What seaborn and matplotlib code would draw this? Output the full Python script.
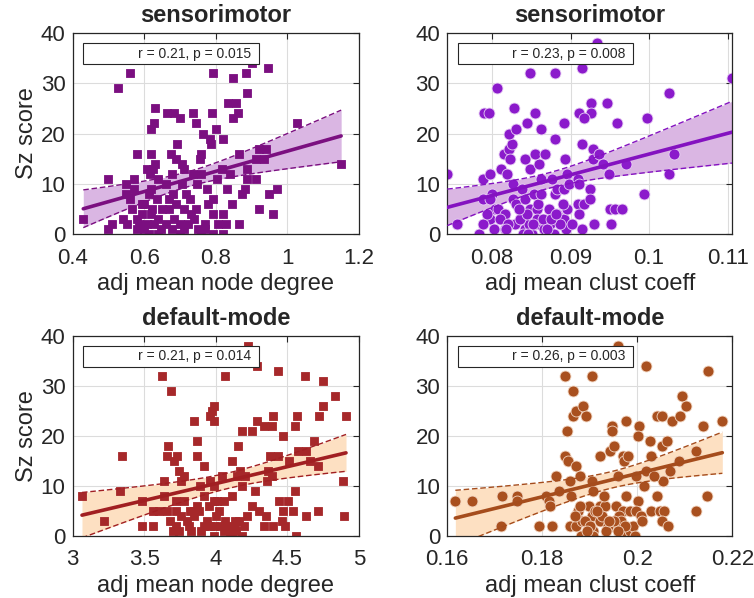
import matplotlib
matplotlib.use("Agg")
import matplotlib.pyplot as plt
import seaborn as sns
import numpy as np
from matplotlib.patches import Rectangle

# sensorimotor, node degree (squares)
tl_x = [0.561, 0.528, 0.792, 0.902, 0.946, 0.885, 0.849, 0.887, 0.834, 0.857, 0.862, 0.848,
        0.630, 0.663, 0.684, 0.700, 0.737, 0.790, 0.744, 0.628, 0.619, 0.801, 0.764, 0.783,
        0.820, 0.787, 1.028, 0.691, 0.581, 0.619, 0.675, 0.689, 0.759, 0.755, 0.865, 0.922,
        0.941, 0.912, 0.934, 0.630, 0.607, 0.625, 0.616, 0.679, 0.707, 0.712, 0.736, 0.759,
        0.817, 0.840, 0.888, 0.888, 0.913, 1.150, 0.500, 0.549, 0.572, 0.572, 0.549, 0.639,
        0.706, 0.748, 0.776, 0.804, 0.832, 0.881, 0.874, 0.971, 0.948, 0.614, 0.637, 0.670,
        0.716, 0.729, 0.792, 0.595, 0.567, 0.621, 0.670, 0.712, 0.744, 0.778, 0.846, 0.922,
        0.961, 0.595, 0.619, 0.684, 0.792, 0.820, 0.511, 0.553, 0.586, 0.609, 0.628, 0.679,
        0.721, 0.806, 0.829, 0.866, 0.498, 0.614, 0.647, 0.712, 0.759, 0.769, 0.792, 0.820,
        0.430, 0.580, 0.640, 0.660, 0.700, 0.740, 0.600, 0.650, 0.690, 0.730, 0.770, 0.620,
        0.660, 0.560, 0.680, 0.540, 0.600, 0.750, 0.700, 0.640, 0.580]
tl_y = [32, 29, 32, 34, 33, 32, 31, 28, 26, 26, 24, 23,
        25, 24, 24, 23, 24, 24, 22, 22, 21, 21, 20, 19,
        19, 18, 22, 18, 16, 16, 16, 15, 16, 15, 16, 17,
        17, 15, 15, 14, 13, 13, 12, 12, 14, 13, 12, 12,
        13, 12, 13, 11, 11, 14, 11, 10, 11, 9, 8, 11,
        10, 10, 9, 11, 9, 9, 8, 9, 8, 8, 7, 7,
        8, 7, 7, 6, 5, 5, 5, 5, 5, 6, 6, 5,
        4, 4, 4, 3, 4, 4, 2, 2, 2, 2, 2, 1,
        2, 2, 2, 2, 1, 0, 1, 1, 0, 1, 0, 0,
        3, 3, 3, 2, 2, 3, 6, 5, 6, 4, 2, 9,
        10, 7, 8, 3, 1, 1, 0, 0, 1]

# sensorimotor, clustering coefficient (circles)
tr_x = [0.0743, 0.0755, 0.0783, 0.0790, 0.0796, 0.0806, 0.0789, 0.0798, 0.0789, 0.0800,
        0.0798, 0.0804, 0.0807, 0.0798, 0.0789, 0.0812, 0.0819, 0.0815, 0.0822, 0.0823,
        0.0826, 0.0821, 0.0830, 0.0828, 0.0816, 0.0816, 0.0827, 0.0827, 0.0830, 0.0829,
        0.0842, 0.0840, 0.0851, 0.0844, 0.0855, 0.0862, 0.0848, 0.0842, 0.0849, 0.0860,
        0.0855, 0.0868, 0.0838, 0.0842, 0.0849, 0.0857, 0.0853, 0.0847, 0.0855, 0.0860,
        0.0866, 0.0874, 0.0857, 0.0880, 0.0880, 0.0892, 0.0893, 0.0863, 0.0877, 0.0872,
        0.0880, 0.0883, 0.0892, 0.0896, 0.0898, 0.0879, 0.0883, 0.0892, 0.0896, 0.0894,
        0.0902, 0.0915, 0.0911, 0.0926, 0.0926, 0.0917, 0.0915, 0.0928, 0.0929, 0.0936,
        0.0909, 0.0911, 0.0909, 0.0911, 0.0917, 0.0925, 0.0925, 0.0914, 0.0930, 0.0934,
        0.0947, 0.0959, 0.0941, 0.0949, 0.0970, 0.0950, 0.0956, 0.0965, 0.0952, 0.0998,
        0.0994, 0.1025, 0.1032, 0.1026, 0.1106, 0.0794, 0.0810, 0.0820, 0.0835, 0.0845,
        0.0852, 0.0865, 0.0870, 0.0886, 0.0802, 0.0834, 0.0858, 0.0875, 0.0890, 0.0818,
        0.0846, 0.0862, 0.0881]
tr_y = [12, 2, 0, 24, 24, 29, 11, 12, 7, 8,
        7, 5, 5, 3, 2, 13, 12, 16, 17, 15,
        18, 20, 21, 25, 4, 1, 7, 10, 6, 2,
        1, 0, 0, 22, 24, 21, 32, 15, 13, 14,
        16, 16, 9, 7, 5, 5, 8, 2, 2, 2,
        1, 2, 3, 32, 19, 22, 15, 11, 11, 5,
        8, 9, 9, 12, 10, 0, 4, 3, 5, 1,
        2, 33, 24, 26, 24, 23, 18, 17, 15, 16,
        11, 10, 6, 4, 6, 9, 7, 1, 2, 38,
        26, 22, 14, 12, 14, 5, 5, 5, 2, 23,
        8, 28, 16, 12, 31, 4, 3, 2, 3, 4,
        2, 3, 1, 2, 1, 5, 6, 3, 6, 1,
        0, 8, 4]

# default-mode, node degree (squares)
bl_x = [3.066, 3.218, 3.334, 3.343, 3.484, 3.484, 3.565, 3.627, 3.685, 3.639, 3.639, 3.666,
        3.657, 3.731, 3.708, 3.743, 3.777, 3.754, 3.604, 3.662, 3.720, 3.720, 3.777, 3.823,
        3.846, 3.870, 3.846, 3.720, 3.743, 3.812, 3.916, 3.985, 3.846, 3.870, 3.870, 3.916,
        3.893, 3.916, 3.950, 3.985, 3.962, 3.962, 3.974, 3.990, 3.990, 4.061, 3.990, 4.020,
        4.054, 4.008, 4.043, 3.990, 4.066, 4.054, 4.112, 4.135, 4.181, 4.135, 4.112, 4.158,
        4.181, 4.250, 4.170, 4.204, 4.147, 4.181, 4.274, 4.250, 4.112, 4.223, 4.290, 4.286,
        4.337, 4.390, 4.401, 4.470, 4.337, 4.401, 4.366, 4.355, 4.390, 4.378, 4.436, 4.436,
        4.440, 4.505, 4.466, 4.540, 4.551, 4.512, 4.574, 4.632, 4.655, 4.713, 4.684, 4.551,
        4.567, 4.720, 4.747, 4.624, 4.747, 4.835, 4.909, 4.627, 4.713, 4.562, 4.886, 4.898,
        3.560, 3.680, 3.760, 3.800, 3.880, 3.940, 4.000, 4.080, 4.160, 4.220, 4.300, 4.460,
        3.700, 3.830, 3.960, 4.100, 4.200, 4.350, 3.900, 4.030, 4.140, 4.480]
bl_y = [8, 3, 9, 16, 7, 2, 2, 32, 29, 11, 8, 18,
        16, 16, 15, 13, 12, 11, 5, 5, 5, 7, 7, 5,
        5, 6, 4, 2, 1, 2, 2, 2, 23, 19, 16, 14,
        10, 8, 6, 7, 11, 24, 25, 26, 23, 32, 10, 5,
        7, 7, 12, 0, 3, 1, 1, 3, 0, 2, 15, 18,
        21, 21, 13, 12, 12, 10, 9, 6, 8, 38, 34, 23,
        22, 22, 24, 20, 2, 2, 13, 11, 12, 16, 16, 33,
        7, 7, 5, 5, 9, 15, 17, 17, 15, 14, 19, 22,
        24, 24, 26, 32, 31, 28, 24, 4, 5, 0, 11, 4,
        5, 3, 4, 3, 5, 3, 4, 2, 3, 4, 5, 3,
        1, 1, 2, 0, 2, 4, 1, 2, 1, 2]

# default-mode, clustering coefficient (circles)
br_x = [0.1617, 0.1652, 0.1716, 0.1714, 0.1747, 0.1746, 0.1793, 0.1821, 0.1808, 0.1815,
        0.1817, 0.1829, 0.1836, 0.1847, 0.1865, 0.1865, 0.1872, 0.1886, 0.1893, 0.1852,
        0.1847, 0.1854, 0.1872, 0.1858, 0.1879, 0.1861, 0.1858, 0.1872, 0.1875, 0.1884,
        0.1881, 0.1905, 0.1904, 0.1907, 0.1898, 0.1904, 0.1921, 0.1921, 0.1907, 0.1907,
        0.1931, 0.1921, 0.1942, 0.1946, 0.1946, 0.1950, 0.1959, 0.1959, 0.1956, 0.1949,
        0.1970, 0.1984, 0.1970, 0.1973, 0.1981, 0.1977, 0.1977, 0.1970, 0.1984, 0.2001,
        0.1998, 0.2004, 0.2001, 0.2019, 0.2026, 0.2028, 0.2015, 0.2019, 0.1998, 0.2028,
        0.2041, 0.2047, 0.2057, 0.2051, 0.2065, 0.2054, 0.2036, 0.2041, 0.2051, 0.2051,
        0.2063, 0.2068, 0.2088, 0.2074, 0.2090, 0.2094, 0.2102, 0.2123, 0.2123, 0.2138,
        0.2147, 0.2148, 0.2179, 0.1868, 0.1890, 0.1912, 0.1926, 0.1938, 0.1962, 0.1966,
        0.1990, 0.2008, 0.1880, 0.1900, 0.1935, 0.1952, 0.1975, 0.1995, 0.1915, 0.1940,
        0.1960, 0.2010, 0.1895, 0.1930]
br_y = [7, 7, 8, 2, 8, 7, 2, 2, 8, 7,
        6, 12, 9, 32, 29, 24, 25, 26, 24, 21,
        16, 15, 14, 11, 12, 8, 2, 2, 5, 3,
        0, 32, 11, 9, 6, 4, 6, 3, 1, 0,
        6, 16, 17, 22, 21, 18, 38, 12, 6, 2,
        0, 1, 16, 15, 16, 23, 8, 5, 5, 7,
        5, 22, 20, 34, 19, 16, 10, 13, 12, 5,
        8, 5, 5, 3, 2, 11, 12, 24, 24, 18,
        19, 13, 15, 23, 24, 28, 26, 17, 5, 22,
        8, 33, 23, 4, 3, 5, 4, 2, 4, 3,
        2, 4, 6, 2, 1, 3, 2, 0, 5, 3,
        1, 3, 1, 8]

titles = ["sensorimotor", "sensorimotor", "default-mode", "default-mode"]
xlabels = ["adj mean node degree", "adj mean clust coeff", "adj mean node degree", "adj mean clust coeff"]
stats = ["r = 0.21, p = 0.015", "r = 0.23, p = 0.008", "r = 0.21, p = 0.014", "r = 0.26, p = 0.003"]
xticks = [[0.4, 0.6, 0.8, 1.0, 1.2], [0.08, 0.09, 0.1, 0.11], [3, 3.5, 4, 4.5, 5], [0.16, 0.18, 0.2, 0.22]]
xticklabels = [["0.4", "0.6", "0.8", "1", "1.2"], ["0.08", "0.09", "0.1", "0.11"],
               ["3", "3.5", "4", "4.5", "5"], ["0.16", "0.18", "0.2", "0.22"]]
xlims = [(0.4, 1.2), (min(tr_x), max(tr_x)), (3, 5), (0.16, 0.22)]
yticks = [0, 10, 20, 30, 40]

sns.set_style("white")
plt.rcParams["font.family"] = ["Liberation Sans", "DejaVu Sans"]

fig = plt.figure(figsize=(7.54, 5.98), dpi=100)
pos = [[0.0962, 0.6087, 0.380, 0.336], [0.5932, 0.6087, 0.378, 0.336],
       [0.0962, 0.1045, 0.380, 0.334], [0.5932, 0.1045, 0.378, 0.334]]
axes = [fig.add_axes(p) for p in pos]


def draw_panel(ax, x, y, marker, color, edge, size, line_color, band_color):
    x = np.array(x, dtype=float)
    y = np.array(y, dtype=float)
    n = len(x)
    slope, icpt = np.polyfit(x, y, 1)
    resid = y - (slope * x + icpt)
    s = np.sqrt(np.sum(resid ** 2) / (n - 2))
    xs = np.linspace(x.min(), x.max(), 100)
    fit = slope * xs + icpt
    se = s * np.sqrt(1 / n + (xs - x.mean()) ** 2 / np.sum((x - x.mean()) ** 2))
    lo, hi = fit - 1.98 * se, fit + 1.98 * se

    ax.fill_between(xs, lo, hi, color=band_color, lw=0, zorder=1)
    sns.scatterplot(x=x, y=y, ax=ax, marker=marker, color=color, s=size,
                    edgecolor=edge, linewidth=0.6, zorder=2, legend=False)
    ax.plot(xs, lo, ls=(0, (4, 2)), color=line_color, lw=1.0, zorder=3)
    ax.plot(xs, hi, ls=(0, (4, 2)), color=line_color, lw=1.0, zorder=3)
    sns.lineplot(x=xs, y=fit, ax=ax, color=line_color, lw=2.6, zorder=4)


styles = [
    ("s", "#7b0f80", "#7b0f80", 36, "#7b0f80", "#dab6e3"),
    ("o", "#8b1acb", "#e8d0f5", 62, "#8412c0", "#dab6e3"),
    ("s", "#a6282a", "#a6282a", 36, "#a11f22", "#fde0c2"),
    ("o", "#a9501f", "#f3d7c3", 62, "#a54c1c", "#fde0c2"),
]
data = [(tl_x, tl_y), (tr_x, tr_y), (bl_x, bl_y), (br_x, br_y)]

for i, ax in enumerate(axes):
    mk, col, edge, size, lc, bc = styles[i]
    draw_panel(ax, data[i][0], data[i][1], mk, col, edge, size, lc, bc)
    ax.set_xlim(xlims[i])
    ax.set_ylim(0, 40)
    ax.set_xticks(xticks[i])
    ax.set_xticklabels(xticklabels[i])
    ax.set_yticks(yticks)
    ax.grid(True, color="#dcdcdc", lw=0.8)
    ax.set_axisbelow(True)
    ax.tick_params(direction="in", top=True, right=True, length=4, width=0.8,
                   labelsize=16, colors="#262626")
    ax.tick_params(axis="x", pad=10)
    ax.tick_params(axis="y", pad=5)
    for sp in ax.spines.values():
        sp.set_color("#262626")
        sp.set_linewidth(0.9)
    ax.set_title(titles[i], fontsize=17, fontweight="bold", pad=8)
    ax.set_xlabel(xlabels[i], fontsize=17, color="#262626", labelpad=3)
    if i % 2 == 0:
        ax.set_ylabel("Sz score", fontsize=17, color="#262626", labelpad=2)
    else:
        ax.set_ylabel("")
    ax.add_patch(Rectangle((0.037, 0.846), 0.614, 0.104, transform=ax.transAxes,
                           facecolor="white", edgecolor="#262626", lw=0.8, zorder=5))
    ax.text(0.625, 0.898, stats[i], transform=ax.transAxes, ha="right", va="center",
            fontsize=10, color="#262626", zorder=6)

fig.savefig("out.png", dpi=100)
